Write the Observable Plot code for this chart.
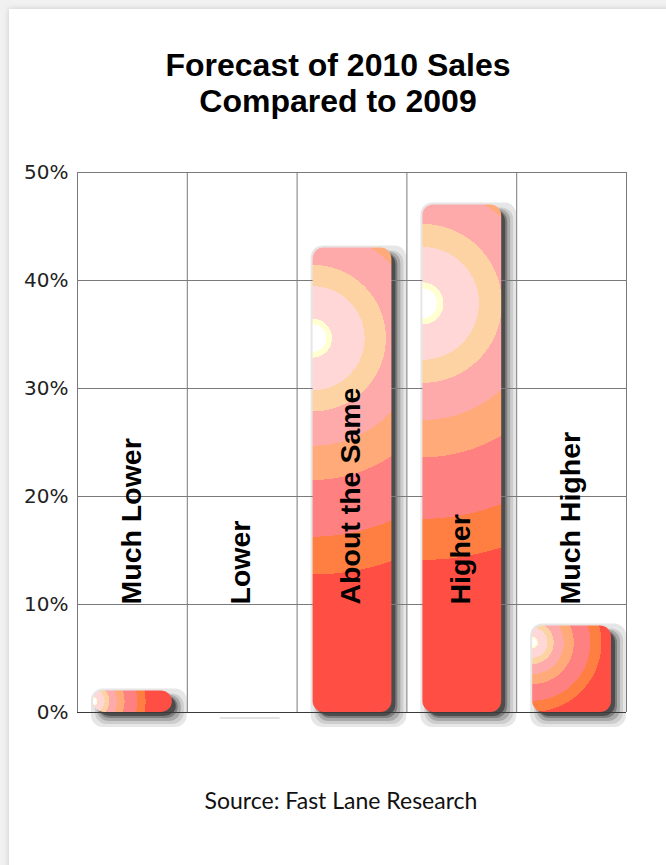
<!DOCTYPE html>
<html>
<head>
<meta charset="utf-8">
<script src="https://cdn.jsdelivr.net/npm/d3@7"></script>
<script src="https://cdn.jsdelivr.net/npm/@observablehq/plot@0.6"></script>
<style>
  html, body { margin: 0; padding: 0; }
  body { width: 666px; height: 865px; background: #f1f1f1; position: relative; overflow: hidden; }
  #card { position: absolute; left: 9px; top: 9px; width: 700px; height: 900px; background: #fff;
          box-shadow: 0 0 6px rgba(0,0,0,0.16); }
  #title { position: absolute; left: 0; width: 676px; top: 47px; text-align: center;
           font: bold 32px "Liberation Sans", Arial, sans-serif; line-height: 36px; color: #000; }
  #chart { position: absolute; left: 0; top: 140px; }
  #caption { position: absolute; left: 0; width: 682px; top: 786px; text-align: center;
             font: 23px Lato, "Noto Sans", sans-serif; color: #111; }
</style>
</head>
<body>
<div id="card"></div>
<div id="title">Forecast of 2010 Sales<br>Compared to 2009</div>
<div id="chart"></div>
<div id="caption">Source: Fast Lane Research</div>
<script>
// ---- data ----
const categories = ["Much Lower", "Lower", "About the Same", "Higher", "Much Higher"];
const values = [2, 0, 43, 47, 8];          // percent
const yTicks = [0, 10, 20, 30, 40, 50];
const labelBase = 10;                       // labels start at the 10% line

// ---- styling for the stepped radial gradient ----
const bandStops  = [0, 0.058, 0.082, 0.22, 0.31, 0.455, 0.60, 0.84, 1.0];
const bandColors = ["#ffffff", "#ffffd2", "#ffd7d7", "#fed3a3", "#ffaaaa", "#ffaa78", "#ff8080", "#ff7f42", "#ff4e43"];
const barBaseFill = "#ff4e44";

const data = categories.map((c, i) => ({cat: c, i, value: values[i]}));
const boundaries = d3.range(categories.length + 1);

const base = {x1: d => d.i, x2: d => d.i + 1, y1: () => 0, y2: d => d.value, insetLeft: 16, insetRight: 15, rx: 11};
const shadowLayers = [
  {fill: "#e6e6e6", l: -2, r: -15, t: -2, b: -15},
  {fill: "#cdcdcd", l: 2,  r: -12, t: 3,  b: -12},
  {fill: "#a9a9a9", l: 4,  r: -9,  t: 4,  b: -9},
  {fill: "#7e7e7e", l: 5,  r: -6,  t: 5,  b: -6},
  {fill: "#4c4c4c", l: 5,  r: -4,  t: 5,  b: -4}
];

const chart = Plot.plot({
  width: 666,
  height: 620,
  marginTop: 32,
  marginBottom: 48,
  marginLeft: 77,
  marginRight: 40,
  style: {fontFamily: "DejaVu Sans", fontSize: "20px", color: "#222", background: "transparent", overflow: "visible"},
  x: {domain: [0, categories.length], axis: null},
  y: {domain: [0, 50], ticks: yTicks, tickFormat: d => d + "%", tickSize: 0, tickPadding: 9, label: null},
  marks: [
    ...shadowLayers.map(s => Plot.rect(data, {
      ...base, filter: d => d.value > 0, fill: s.fill,
      insetLeft: base.insetLeft + s.l, insetRight: base.insetRight + s.r,
      insetTop: s.t, insetBottom: s.b, rx: 12
    })),
    Plot.rect(data, {...base, filter: d => d.value === 0, fill: "#e2e2e2",
      insetLeft: 33, insetRight: 17, insetTop: 5, insetBottom: -7, rx: 0}),
    Plot.ruleY(yTicks, {stroke: "#7a7a7a", strokeWidth: 1}),
    Plot.ruleX(boundaries, {stroke: "#7a7a7a", strokeWidth: 1}),
    Plot.ruleY([0], {stroke: "#3a3a3a", strokeWidth: 1.2}),
    Plot.rect(data, {...base, filter: d => d.value > 0, fill: barBaseFill}),
    Plot.text(data, {
      x: d => d.i + 0.5, y: () => labelBase, text: "cat", dx: -1,
      rotate: -90, textAnchor: "start", fontSize: 28.5, fontWeight: "bold",
      fontFamily: "Liberation Sans, Arial, sans-serif", fill: "#000"
    })
  ]
});
document.getElementById("chart").appendChild(chart);

// ---- stepped radial gradients, one per bar, from each rendered rect ----
const svg = d3.select(chart);
const defs = svg.insert("defs", ":first-child");
const barRects = Array.from(chart.querySelectorAll("rect")).filter(r => {
  const own = r.getAttribute("fill");
  const par = r.parentNode && r.parentNode.getAttribute && r.parentNode.getAttribute("fill");
  return (own || par || "").toLowerCase() === barBaseFill;
});
barRects.forEach((r, k) => {
  const x = +r.getAttribute("x"), y = +r.getAttribute("y");
  const w = +r.getAttribute("width"), h = +r.getAttribute("height");
  const R = 0.944 * Math.hypot(w, h) / 2 + 14;
  const cx = x, cy = y + Math.max(0.195 * h, Math.min(h / 2, 17));
  const g = defs.append("radialGradient")
    .attr("id", "barGrad" + k)
    .attr("gradientUnits", "userSpaceOnUse")
    .attr("cx", cx).attr("cy", cy).attr("fx", cx).attr("fy", cy).attr("r", R);
  for (let j = 0; j < bandColors.length; j++) {
    g.append("stop").attr("offset", bandStops[j]).attr("stop-color", bandColors[j]);
    if (j + 1 < bandStops.length) g.append("stop").attr("offset", bandStops[j + 1]).attr("stop-color", bandColors[j]);
  }
  r.setAttribute("fill", `url(#barGrad${k})`);
});
</script>
</body>
</html>
